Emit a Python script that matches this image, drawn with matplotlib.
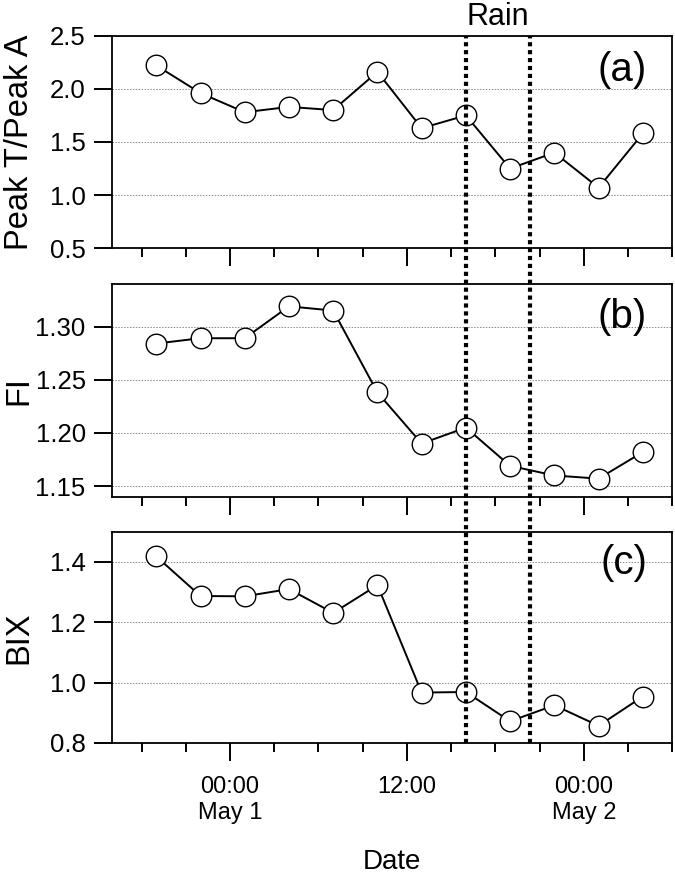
import numpy as np
import matplotlib
matplotlib.use("Agg")
import matplotlib.pyplot as plt
import matplotlib.dates as mdates
import matplotlib.transforms as mtransforms
from matplotlib.lines import Line2D
from datetime import datetime

plt.rcParams['font.family'] = ['Liberation Sans', 'DejaVu Sans']

# sampling times (every 3 h)
times = [datetime(2000, 4, 30, 19), datetime(2000, 4, 30, 22),
         datetime(2000, 5, 1, 1), datetime(2000, 5, 1, 4),
         datetime(2000, 5, 1, 7), datetime(2000, 5, 1, 10),
         datetime(2000, 5, 1, 13), datetime(2000, 5, 1, 16),
         datetime(2000, 5, 1, 19), datetime(2000, 5, 1, 22),
         datetime(2000, 5, 2, 1), datetime(2000, 5, 2, 4)]

peak_ratio = [2.22, 1.96, 1.78, 1.83, 1.80, 2.16, 1.63, 1.75, 1.25, 1.40, 1.07, 1.58]
fi = [1.284, 1.289, 1.289, 1.319, 1.315, 1.238, 1.190, 1.205, 1.169, 1.160, 1.157, 1.182]
bix = [1.418, 1.287, 1.286, 1.310, 1.231, 1.323, 0.967, 0.969, 0.872, 0.925, 0.857, 0.954]

rain_start = datetime(2000, 5, 1, 16, 0)
rain_end = datetime(2000, 5, 1, 20, 20)
x_start = datetime(2000, 4, 30, 16)
x_end = datetime(2000, 5, 2, 6)

panels = [
    (peak_ratio, "Peak T/Peak A", "(a)", (0.5, 2.5), [0.5, 1.0, 1.5, 2.0, 2.5], "%.1f", 0.84),
    (fi, "FI", "(b)", (1.14, 1.34), [1.15, 1.20, 1.25, 1.30], "%.2f", 0.846),
    (bix, "BIX", "(c)", (0.8, 1.5), [0.8, 1.0, 1.2, 1.4], "%.1f", 0.852),
]

# axes rectangles in figure fraction (left, bottom, width, height)
rects = [(0.166, 0.7169, 0.830, 0.2424),
         (0.166, 0.4336, 0.830, 0.2426),
         (0.166, 0.1528, 0.830, 0.2409)]

fig = plt.figure(figsize=(6.75, 8.77), dpi=100)
axes = []
for (vals, ylab, tag, ylim, yticks, fmt, tag_y), rect in zip(panels, rects):
    ax = fig.add_axes(rect)
    ax.plot(times, vals, color='black', lw=1.4, marker='o', ms=14.8,
            mfc='white', mec='black', mew=1.0, zorder=3)
    ax.set_xlim(x_start, x_end)
    ax.set_ylim(*ylim)
    ax.set_yticks(yticks)
    ax.yaxis.set_major_formatter(matplotlib.ticker.FormatStrFormatter(fmt))
    ax.grid(axis='y', ls=(0, (1.5, 1.5)), lw=0.7, color='#888888', zorder=0)
    ax.set_ylabel(ylab, fontsize=23.5)
    ax.yaxis.set_label_coords(-0.138, 0.5)
    ax.text(0.955, tag_y, tag, transform=ax.transAxes, fontsize=29,
            ha='right', va='center')

    ax.xaxis.set_major_locator(mdates.HourLocator(byhour=[0, 12]))
    ax.xaxis.set_minor_locator(mdates.HourLocator(byhour=range(0, 24, 3)))
    ax.tick_params(axis='both', which='major', direction='out', length=13,
                   width=1.4, labelsize=18.5, pad=6)
    ax.tick_params(axis='x', which='minor', direction='out', length=6.5, width=1.4)
    for s in ax.spines.values():
        s.set_linewidth(1.3)
    axes.append(ax)

for ax in axes[:-1]:
    ax.tick_params(axis='x', labelbottom=False)


def date_label(x, pos=None):
    d = mdates.num2date(x)
    if d.hour == 0:
        return d.strftime("%H:%M") + "\n" + "May %d" % d.day
    return d.strftime("%H:%M")


axes[-1].xaxis.set_major_formatter(matplotlib.ticker.FuncFormatter(date_label))
axes[-1].tick_params(axis='x', which='major', labelsize=17, pad=11)
axes[-1].set_xlabel("Date", fontsize=20, labelpad=18)

# rain markers spanning all panels, drawn above every axes
top = rects[0][1] + rects[0][3]
bottom = rects[2][1]
trans = mtransforms.blended_transform_factory(axes[0].transData, fig.transFigure)
for t in [rain_start, rain_end]:
    xd = mdates.date2num(t)
    fig.add_artist(Line2D([xd, xd], [bottom, top], transform=trans, color='black',
                          lw=3.0, ls=(0, (1.0, 0.9)), zorder=5))

mid = mdates.date2num(rain_start) + (mdates.date2num(rain_end) - mdates.date2num(rain_start)) / 2
axes[0].text(mid, 1.09, "Rain", transform=mtransforms.blended_transform_factory(
    axes[0].transData, axes[0].transAxes), fontsize=22, ha='center', va='center')

fig.savefig("out.png", dpi=100)
